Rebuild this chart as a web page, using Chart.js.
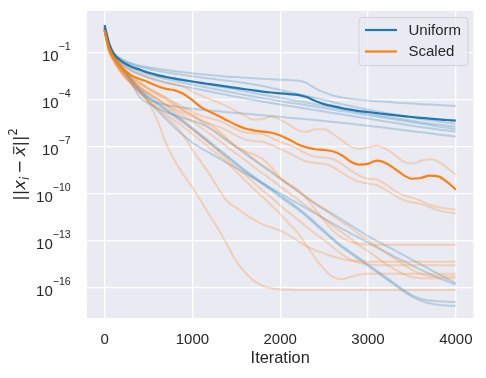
<!DOCTYPE html>
<html><head><meta charset="utf-8">
<script src="https://cdn.jsdelivr.net/npm/chart.js@4"></script>
<style>html,body{margin:0;padding:0;background:#fff}#wrap{width:486px;height:378px}</style>
</head><body><div id="wrap"><canvas id="c" width="486" height="378"></canvas></div>
<script>
// Iteration sample points
const iterations = [0,25,50,100,200,300,400,500,600,700,800,900,1000,1100,1200,1300,1400,1500,1600,1700,1800,1900,2000,2100,2200,2300,2400,2500,2600,2700,2800,2900,3000,3100,3200,3300,3400,3500,3600,3700,3800,3900,4000];
const xTicks = [0,1000,2000,3000,4000];
const yTickExponents = [-1,-4,-7,-10,-13,-16];
const seriesLabels = ['Uniform','Scaled'];

// All series below are log10 of ||x_i - x̄||^2
const uniformMean = [0.74,0.15,-0.4,-1.05, -1.6,-1.9,-2.1,-2.3,-2.45,-2.57,-2.68,-2.77,-2.86, -2.95,-3.03,-3.11,-3.19,-3.27,-3.35,-3.42,-3.5,-3.56,-3.61, -3.66,-3.71,-3.85,-4.1,-4.3,-4.43,-4.55,-4.65,-4.74,-4.8, -4.87,-4.94,-5.0,-5.06,-5.12,-5.17,-5.22,-5.27,-5.31,-5.35];
const scaledMean = [0.42,-0.2,-0.7,-1.3, -2.0,-2.45,-2.7,-2.9,-3.15,-3.33,-3.42,-3.65,-4.05, -4.5,-4.78,-5.05,-5.35,-5.62,-5.85,-5.97,-6.05,-6.12,-6.3, -6.55,-6.85,-7.05,-7.17,-7.22,-7.3,-7.55,-7.95,-8.15,-8.1, -7.9,-8.05,-8.4,-8.8,-9.05,-9.0,-8.85,-8.9,-9.25,-9.75];

const uniformRun1 = [0.65,0.1,-0.45,-1.0, -1.45,-1.7,-1.85,-1.95,-2.05,-2.13,-2.2,-2.27,-2.33, -2.4,-2.45,-2.5,-2.55,-2.58,-2.62,-2.65,-2.68,-2.71,-2.74, -2.77,-2.8,-2.95,-3.3,-3.55,-3.75,-3.88,-3.96,-4.02,-4.07, -4.11,-4.15,-4.19,-4.23,-4.26,-4.3,-4.33,-4.36,-4.39,-4.42];
const uniformRun2 = [0.6,0.05,-0.5,-1.05, -1.5,-1.75,-1.92,-2.05,-2.17,-2.27,-2.37,-2.45,-2.52, -2.6,-2.67,-2.74,-2.81,-2.88,-2.95,-3.05,-3.15,-3.27,-3.4, -3.52,-3.65,-3.78,-3.9,-4.03,-4.16,-4.3,-4.42,-4.54,-4.65, -4.76,-4.86,-4.96,-5.06,-5.15,-5.24,-5.32,-5.4,-5.48,-5.56];
const uniformRun3 = [0.6,0.0,-0.55,-1.1, -1.6,-1.9,-2.1,-2.27,-2.42,-2.55,-2.67,-2.78,-2.88, -2.98,-3.08,-3.18,-3.28,-3.38,-3.5,-3.6,-3.7,-3.8,-3.9, -4.0,-4.1,-4.2,-4.3,-4.4,-4.5,-4.6,-4.7,-4.8,-4.9, -5.0,-5.09,-5.18,-5.27,-5.36,-5.45,-5.53,-5.6,-5.67,-5.74];
const uniformRun4 = [0.55,-0.05,-0.6,-1.15, -1.7,-2.0,-2.22,-2.4,-2.56,-2.7,-2.83,-2.95,-3.06, -3.17,-3.28,-3.39,-3.5,-3.61,-3.72,-3.82,-3.92,-4.01,-4.1, -4.19,-4.28,-4.37,-4.46,-4.55,-4.64,-4.73,-4.82,-4.91,-5.0, -5.09,-5.18,-5.27,-5.36,-5.45,-5.54,-5.63,-5.72,-5.81,-5.9];
const uniformRun5 = [0.55,-0.1,-0.65,-1.2, -1.8,-2.15,-2.4,-2.6,-2.77,-2.92,-3.05,-3.17,-3.28, -3.39,-3.5,-3.61,-3.72,-3.83,-3.94,-4.04,-4.14,-4.23,-4.32, -4.41,-4.5,-4.59,-4.68,-4.77,-4.86,-4.95,-5.04,-5.13,-5.22, -5.31,-5.4,-5.49,-5.58,-5.67,-5.76,-5.84,-5.91,-5.98,-6.05];
const uniformRun6 = [0.55,-0.1,-0.7,-1.3, -2.0,-2.75,-3.45,-3.95,-4.2,-4.35,-4.45,-4.53,-4.6, -4.66,-4.71,-4.76,-4.81,-4.86,-4.91,-4.96,-5.01,-5.06,-5.11, -5.16,-5.21,-5.26,-5.31,-5.37,-5.43,-5.49,-5.55,-5.61,-5.67, -5.74,-5.81,-5.88,-5.95,-6.02,-6.09,-6.16,-6.23,-6.3,-6.37];
const uniformRun7 = [0.55,-0.1,-0.65,-1.2, -2.0,-2.9,-3.85,-4.25,-4.55,-4.8,-5.0,-5.2,-5.35, -5.55,-5.85,-6.25,-6.65,-7.05,-7.45,-7.85,-8.25,-8.65,-9.05, -9.45,-9.85,-10.25,-10.65,-11.0,-11.3,-11.65,-12.0,-12.35,-12.7, -13.0,-13.3,-13.6,-13.9,-14.2,-14.5,-14.8,-15.1,-15.4,-15.7];
const uniformRun8 = [0.55,-0.15,-0.75,-1.35, -2.2,-2.9,-3.5,-4.1,-4.7,-5.25,-5.8,-6.3,-6.75, -7.1,-7.42,-7.74,-8.06,-8.38,-8.7,-9.02,-9.34,-9.66,-9.98, -10.3,-10.62,-10.94,-11.26,-11.58,-11.9,-12.22,-12.52,-12.82,-13.12, -13.42,-13.71,-14.0,-14.28,-14.56,-14.84,-15.1,-15.35,-15.58,-15.8];
const uniformRun9 = [0.55,-0.1,-0.7,-1.25, -1.95,-2.6,-3.3,-3.8,-4.2,-4.6,-5.0,-5.4,-5.8, -6.25,-6.7,-7.15,-7.6,-8.05,-8.5,-8.9,-9.3,-9.7,-10.1, -10.5,-10.9,-11.35,-11.85,-12.35,-12.85,-13.3,-13.7,-14.1,-14.5, -14.9,-15.3,-15.7,-16.1,-16.45,-16.68,-16.8,-16.85,-16.88,-16.9];
const uniformRun10 = [0.55,-0.15,-0.75,-1.3, -2.05,-2.7,-3.4,-3.9,-4.3,-4.7,-5.1,-5.5,-5.9, -6.35,-6.8,-7.25,-7.7,-8.15,-8.6,-9.0,-9.4,-9.8,-10.2, -10.6,-11.0,-11.45,-11.95,-12.45,-12.95,-13.4,-13.8,-14.2,-14.6, -15.0,-15.4,-15.8,-16.2,-16.55,-16.8,-16.98,-17.07,-17.12,-17.15];

const scaledRun1 = [0.4,-0.15,-0.6,-1.1, -1.75,-2.15,-2.4,-2.6,-2.8,-2.95,-3.05,-3.2,-3.5, -3.75,-4.0,-4.2,-4.45,-4.75,-5.05,-5.3,-5.25,-5.1,-5.3, -5.6,-5.95,-6.05,-5.9,-5.9,-6.2,-6.6,-7.0,-7.15,-7.05, -6.95,-7.15,-7.5,-7.95,-8.1,-7.9,-7.8,-7.95,-8.35,-8.8];
const scaledRun2 = [0.4,-0.25,-0.8,-1.35, -2.15,-2.6,-3.0,-3.3,-3.6,-3.9,-4.2,-4.5,-4.8, -5.05,-5.2,-5.35,-5.6,-5.9,-6.1,-6.15,-6.2,-6.45,-6.7, -6.9,-7.15,-7.45,-7.65,-7.7,-7.8,-8.1,-8.5,-8.85,-9.05, -9.1,-9.4,-9.8,-10.1,-10.25,-10.45,-10.7,-10.85,-10.95,-11.0];
const scaledRun3 = [0.4,-0.3,-0.85,-1.45, -2.3,-2.85,-3.3,-3.65,-4.0,-4.3,-4.6,-4.85,-5.1, -5.35,-5.55,-5.75,-6.0,-6.3,-6.55,-6.65,-6.7,-6.9,-7.15, -7.4,-7.7,-7.95,-8.05,-8.1,-8.3,-8.65,-9.0,-9.25,-9.35, -9.45,-9.75,-10.1,-10.4,-10.55,-10.65,-10.85,-11.05,-11.18,-11.25];
const scaledRun4 = [0.4,-0.35,-0.95,-1.55, -2.35,-2.95,-3.5,-4.2,-5.3,-6.8,-7.9,-8.8,-9.6, -10.5,-11.4,-12.3,-13.3,-14.3,-15.0,-15.55,-15.85,-16.02,-16.1, -16.12,-16.13,-16.13,-16.13,-16.13,-16.13,-16.13,-16.13,-16.13,-16.13, -16.13,-16.13,-16.13,-16.13,-16.13,-16.13,-16.13,-16.13,-16.13,-16.13];
const scaledRun5 = [0.4,-0.3,-0.9,-1.5, -2.4,-3.0,-3.55,-4.05,-4.5,-4.95,-5.35,-5.75,-6.2, -6.65,-7.1,-7.55,-8.05,-8.6,-9.15,-9.7,-10.2,-10.75,-11.3, -11.9,-12.5,-13.3,-14.1,-14.8,-15.3,-15.45,-15.3,-15.15,-15.1, -15.1,-15.1,-15.1,-15.1,-15.1,-15.1,-15.1,-15.1,-15.1,-15.1];
const scaledRun6 = [0.4,-0.2,-0.75,-1.25, -1.95,-2.45,-2.9,-3.3,-3.6,-3.9,-4.3,-4.7,-5.0, -5.3,-5.6,-6.0,-6.5,-7.0,-7.3,-7.5,-7.8,-8.3,-9.0, -9.4,-9.8,-10.3,-11.0,-11.7,-12.35,-12.8,-13.05,-13.2,-13.25, -13.25,-13.25,-13.25,-13.25,-13.25,-13.25,-13.25,-13.25,-13.25,-13.25];
const scaledRun7 = [0.4,-0.3,-0.9,-1.45, -2.3,-3.0,-3.6,-4.1,-4.6,-5.1,-5.6,-6.3,-7.2, -8.0,-8.8,-9.7,-10.5,-10.9,-11.3,-11.65,-11.95,-12.15,-12.35, -12.65,-13.0,-13.35,-13.6,-13.8,-14.0,-14.15,-14.25,-14.3,-14.33, -14.33,-14.33,-14.33,-14.33,-14.33,-14.33,-14.33,-14.33,-14.33,-14.33];
const scaledRun8 = [0.4,-0.25,-0.8,-1.35, -2.1,-2.7,-3.2,-3.6,-4.0,-4.4,-4.85,-5.35,-5.9, -6.35,-6.8,-7.3,-7.85,-8.35,-8.8,-9.3,-9.8,-10.25,-10.75, -11.2,-11.65,-12.1,-12.55,-12.95,-13.4,-13.85,-14.2,-14.4,-14.5, -14.55,-14.55,-14.55,-14.55,-14.55,-14.55,-14.55,-14.55,-14.55,-14.55];
const scaledRun9 = [0.4,-0.25,-0.8,-1.3, -2.0,-2.5,-2.95,-3.35,-3.7,-4.05,-4.4,-4.7,-5.0, -5.4,-5.8,-6.15,-6.6,-7.0,-7.35,-7.8,-8.2,-8.55,-9.0, -9.4,-9.75,-10.2,-10.6,-10.95,-11.4,-11.8,-12.15,-12.6,-12.95, -13.35,-13.75,-14.1,-14.5,-14.85,-15.1,-15.24,-15.26,-15.26,-15.26];
const scaledRun10 = [0.4,-0.3,-0.85,-1.4, -2.15,-2.7,-3.2,-3.6,-3.95,-4.35,-4.7,-5.05,-5.4, -5.8,-6.2,-6.6,-7.05,-7.45,-7.85,-8.3,-8.7,-9.1,-9.55, -9.95,-10.35,-10.8,-11.2,-11.6,-12.05,-12.45,-12.85,-13.3,-13.65, -14.05,-14.45,-14.8,-15.1,-15.3,-15.38,-15.39,-15.39,-15.39,-15.39];

const uniformRuns = [uniformRun1,uniformRun2,uniformRun3,uniformRun4,uniformRun5,uniformRun6,uniformRun7,uniformRun8,uniformRun9,uniformRun10];
const scaledRuns = [scaledRun1,scaledRun2,scaledRun3,scaledRun4,scaledRun5,scaledRun6,scaledRun7,scaledRun8,scaledRun9,scaledRun10];

const BLUE = '#1f77b4', ORANGE = '#ff7f0e';
const BLUE_T = 'rgba(31,119,180,0.25)', ORANGE_T = 'rgba(255,127,14,0.25)';
const TXT = '#262626';
const toPts = logs => iterations.map((it, i) => ({x: it, y: Math.pow(10, logs[i])}));

const datasets = [];
datasets.push({label: seriesLabels[1], data: toPts(scaledMean), borderColor: ORANGE, borderWidth: 2.2, order: 0, isMain: true});
datasets.push({label: seriesLabels[0], data: toPts(uniformMean), borderColor: BLUE, borderWidth: 2.2, order: 1, isMain: true});
scaledRuns.forEach((r, i) => datasets.push({label: 'scaled run ' + (i+1), data: toPts(r), borderColor: ORANGE_T, borderWidth: 2, order: 2}));
uniformRuns.forEach((r, i) => datasets.push({label: 'uniform run ' + (i+1), data: toPts(r), borderColor: BLUE_T, borderWidth: 2, order: 3}));

const bgPlugin = {
  id: 'bg',
  beforeDraw(chart) {
    const {ctx, chartArea: a} = chart;
    ctx.save();
    ctx.fillStyle = '#ffffff';
    ctx.fillRect(0, 0, chart.width, chart.height);
    ctx.fillStyle = '#eaeaf2';
    ctx.fillRect(a.left, a.top, a.right - a.left, a.bottom - a.top);
    ctx.restore();
  }
};

const decorPlugin = {
  id: 'decor',
  afterDraw(chart) {
    const {ctx, chartArea: a} = chart;
    const ys = chart.scales.y;
    ctx.save();
    ctx.fillStyle = TXT;
    ctx.textBaseline = 'alphabetic';
    // y tick labels 10^{-n}
    const right = a.left - 16.3;
    yTickExponents.forEach(e => {
      const py = ys.getPixelForValue(Math.pow(10, e));
      const sup = (e < 0 ? '\u2212' : '') + Math.abs(e);
      ctx.font = '10.6px "Liberation Sans"';
      const sw = ctx.measureText(sup).width;
      ctx.font = '15px "Liberation Sans"';
      const bw = ctx.measureText('10').width;
      ctx.fillText('10', right - sw - bw, py + 8.3);
      ctx.font = '10.6px "Liberation Sans"';
      ctx.fillText(sup, right - sw, py - 2.6);
    });
    // y axis label  ||x_i - x̄||^2
    const big = 16.4, small = 11.5;
    const F = (s, it) => (it ? 'italic ' : '') + s + 'px "DejaVu Sans"';
    const parts = [
      {t: '||', f: F(big, false), dy: 0},
      {t: 'x', f: F(big, true), dy: 0},
      {t: 'i', f: F(small, true), dy: 3.6},
      {gap: 3.4},
      {t: '\u2212', f: F(big, false), dy: 0},
      {gap: 3.4},
      {t: 'x', f: F(big, true), dy: 0, bar: true},
      {t: '||', f: F(big, false), dy: 0},
      {t: '2', f: F(small, false), dy: -7.6}
    ];
    let w = 0;
    parts.forEach(p => { if (p.gap) { w += p.gap; return; } ctx.font = p.f; p.w = ctx.measureText(p.t).width; w += p.w; });
    ctx.translate(25, (a.top + a.bottom) / 2);
    ctx.rotate(-Math.PI / 2);
    let x = -w / 2;
    parts.forEach(p => {
      if (p.gap) { x += p.gap; return; }
      ctx.font = p.f;
      ctx.fillText(p.t, x, p.dy);
      if (p.bar) ctx.fillRect(x + 2.2, -big * 0.56 - 2.6, p.w - 2, 1.1);
      x += p.w;
    });
    ctx.restore();

    // legend
    ctx.save();
    const bx = 359, by = 17.5, bw2 = 109, bh = 48, r = 3;
    ctx.beginPath();
    ctx.moveTo(bx + r, by); ctx.lineTo(bx + bw2 - r, by); ctx.quadraticCurveTo(bx + bw2, by, bx + bw2, by + r);
    ctx.lineTo(bx + bw2, by + bh - r); ctx.quadraticCurveTo(bx + bw2, by + bh, bx + bw2 - r, by + bh);
    ctx.lineTo(bx + r, by + bh); ctx.quadraticCurveTo(bx, by + bh, bx, by + bh - r);
    ctx.lineTo(bx, by + r); ctx.quadraticCurveTo(bx, by, bx + r, by);
    ctx.closePath();
    ctx.fillStyle = 'rgba(234,234,242,0.8)';
    ctx.fill();
    ctx.strokeStyle = 'rgba(204,204,204,0.8)';
    ctx.lineWidth = 1;
    ctx.stroke();
    const entries = [{ds: chart.data.datasets[1], y: 30}, {ds: chart.data.datasets[0], y: 51.5}];
    entries.forEach(en => {
      ctx.strokeStyle = en.ds.borderColor;
      ctx.lineWidth = 2.2;
      ctx.beginPath(); ctx.moveTo(365, en.y); ctx.lineTo(397, en.y); ctx.stroke();
      ctx.fillStyle = TXT;
      ctx.font = '15px "Liberation Sans"';
      ctx.textBaseline = 'middle';
      ctx.fillText(en.ds.label, 408.5, en.y + 0.5);
    });
    ctx.restore();
  }
};

new Chart(document.getElementById('c'), {
  type: 'line',
  data: {datasets},
  options: {
    responsive: false,
    animation: false,
    devicePixelRatio: 1,
    layout: {padding: {left: 0, right: 11, top: 11, bottom: 0}},
    elements: {point: {radius: 0}, line: {cubicInterpolationMode: 'monotone', fill: false}},
    plugins: {legend: {display: false}, tooltip: {enabled: false}},
    scales: {
      x: {
        type: 'linear', min: -200, max: 4200,
        afterBuildTicks: s => { s.ticks = xTicks.map(v => ({value: v})); },
        afterFit: s => { s.height = 60; },
        grid: {color: '#ffffff', lineWidth: 1.3, drawTicks: false},
        border: {display: false},
        ticks: {padding: 13, color: TXT, font: {family: 'Liberation Sans', size: 15}, callback: v => String(v), maxRotation: 0, autoSkip: false},
        title: {display: true, text: 'Iteration', color: TXT, font: {family: 'Liberation Sans', size: 16.4}, padding: {top: 0, bottom: 10}}
      },
      y: {
        type: 'logarithmic', min: Math.pow(10, -17.913), max: Math.pow(10, 1.629),
        afterBuildTicks: s => { s.ticks = yTickExponents.map(e => ({value: Math.pow(10, e)})); },
        afterFit: s => { s.width = 87; },
        grid: {color: '#ffffff', lineWidth: 1.3, drawTicks: false},
        border: {display: false},
        ticks: {display: false}
      }
    }
  },
  plugins: [bgPlugin, decorPlugin]
});
</script>
</body></html>
